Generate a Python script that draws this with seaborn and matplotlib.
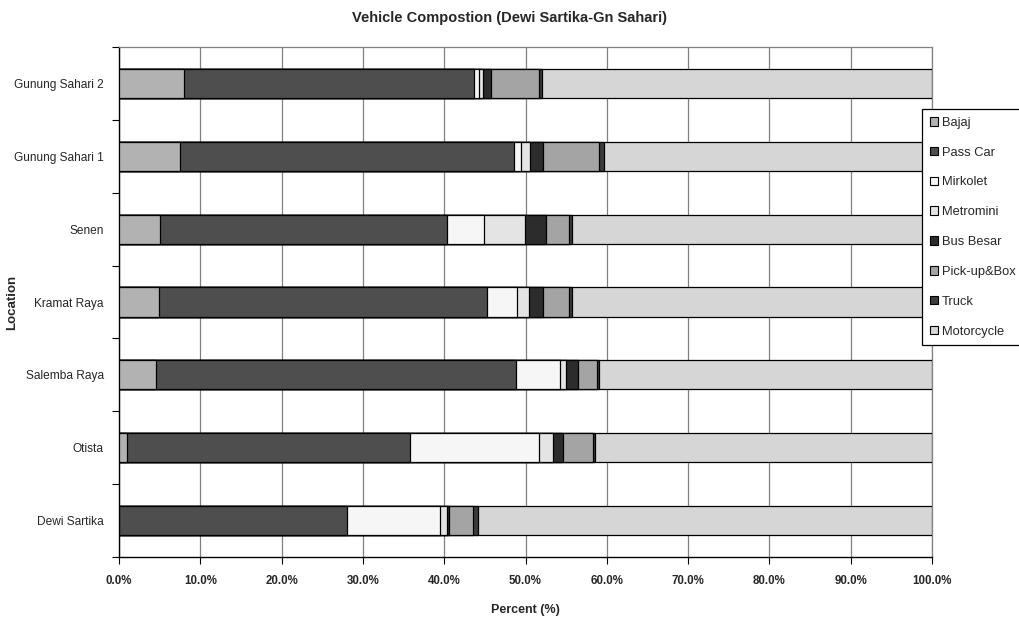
import numpy as np
import pandas as pd
import seaborn as sns
import matplotlib
matplotlib.use("Agg")
import matplotlib.pyplot as plt
from matplotlib.patches import Patch
from matplotlib.ticker import PercentFormatter, FixedLocator

# Share of each vehicle type per survey location (percent)
locations = ["Gunung Sahari 2", "Gunung Sahari 1", "Senen", "Kramat Raya",
             "Salemba Raya", "Otista", "Dewi Sartika"]
vehicle_types = ["Bajaj", "Pass Car", "Mirkolet", "Metromini", "Bus Besar",
                 "Pick-up&Box", "Truck", "Motorcycle"]
bajaj = [8.0, 7.5, 5.1, 4.9, 4.5, 1.0, 0.0]
pass_car = [35.7, 41.1, 35.3, 40.4, 44.3, 34.8, 28.1]
mirkolet = [0.6, 0.8, 4.5, 3.6, 5.4, 15.8, 11.4]
metromini = [0.5, 1.1, 5.0, 1.5, 0.8, 1.8, 0.9]
bus_besar = [1.0, 1.6, 2.6, 1.8, 1.5, 1.2, 0.2]
pickup_box = [5.9, 7.0, 2.9, 3.1, 2.3, 3.7, 2.9]
truck = [0.3, 0.5, 0.3, 0.4, 0.3, 0.3, 0.6]
motorcycle = [48.0, 40.4, 44.3, 44.3, 40.9, 41.4, 55.9]
x_ticks = [0, 10, 20, 30, 40, 50, 60, 70, 80, 90, 100]

shares = [bajaj, pass_car, mirkolet, metromini, bus_besar, pickup_box, truck, motorcycle]
colors = ["#b2b2b2", "#4e4e4e", "#f6f6f6", "#e4e4e4", "#2c2c2c",
          "#a4a4a4", "#3c3c3c", "#d6d6d6"]

sns.set_theme(style="white")
plt.rcParams["font.family"] = ["Liberation Sans", "DejaVu Sans"]

fig = plt.figure(figsize=(10.2, 6.21), dpi=100)
ax = fig.add_axes([119 / 1020, 64 / 621, 813 / 1020, 510 / 621])

df = pd.DataFrame(dict(zip(vehicle_types, shares)), index=locations)
cum = df.cumsum(axis=1)

# Stacked bars: draw cumulative totals from the outermost layer inward
for vt, col in reversed(list(zip(vehicle_types, colors))):
    layer = pd.DataFrame({"Location": locations, "Percent": cum[vt].values})
    sns.barplot(data=layer, x="Percent", y="Location", order=locations,
                orient="h", color=col, saturation=1, width=0.4,
                edgecolor="black", linewidth=0.9, ax=ax, zorder=3)

ax.set_xlim(0, 100)
ax.set_ylim(6.5, -0.5)
ax.set_xticks(x_ticks)
ax.xaxis.set_major_formatter(PercentFormatter(100, decimals=1))
ax.grid(axis="x", color="#808080", linewidth=0.9, zorder=0)
ax.grid(axis="y", visible=False)
ax.set_axisbelow(True)

ax.yaxis.set_minor_locator(FixedLocator(np.arange(-0.5, 7.0, 1.0)))
ax.tick_params(axis="y", which="major", length=0, pad=11, labelsize=8.6)
ax.tick_params(axis="y", which="minor", length=5, width=0.8, color="black", direction="out", left=True)
ax.tick_params(axis="x", which="major", length=5, width=0.8, color="black", direction="out",
               bottom=True, pad=8, labelsize=8.3)
for lbl in ax.get_xticklabels():
    lbl.set_fontweight("bold")

for side in ["left", "bottom"]:
    ax.spines[side].set_color("black")
    ax.spines[side].set_linewidth(1.0)
for side in ["top", "right"]:
    ax.spines[side].set_color("#808080")
    ax.spines[side].set_linewidth(0.9)

ax.set_xlabel("Percent (%)", fontsize=9, fontweight="bold")
ax.xaxis.set_label_coords(0.5, -0.092)
ax.set_ylabel("Location", fontsize=9.5, fontweight="bold")
ax.yaxis.set_label_coords(-0.124, 0.5)
fig.suptitle("Vehicle Compostion (Dewi Sartika-Gn Sahari)", y=0.982,
             fontsize=10.5, fontweight="bold")

handles = [Patch(facecolor=c, edgecolor="black", linewidth=0.8, label=v)
           for v, c in zip(vehicle_types, colors)]
leg = fig.legend(handles=handles, loc="upper left", bbox_to_anchor=(922 / 1020, 1 - 109 / 621),
                 bbox_transform=fig.transFigure, fontsize=9.3, frameon=True, fancybox=False,
                 edgecolor="black", framealpha=1, handlelength=0.65, handleheight=0.65,
                 handletextpad=0.3, labelspacing=1.38, borderpad=0.6, borderaxespad=0)
leg.get_frame().set_linewidth(0.9)

fig.savefig("out.png", dpi=100, facecolor="white")
